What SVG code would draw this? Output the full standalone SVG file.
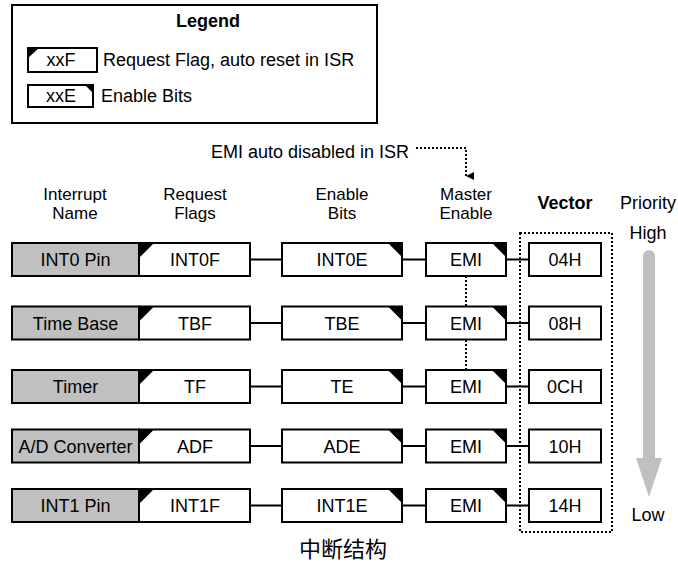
<svg xmlns="http://www.w3.org/2000/svg" width="678" height="571" viewBox="0 0 678 571">
<style>
text{font-family:"Liberation Sans",Arial,sans-serif;font-size:18px;fill:#000;text-anchor:middle}
.b{font-weight:bold}
.l{text-anchor:start}
.h{font-size:17px}
.box{fill:#fff;stroke:#000;stroke-width:2}
.name{fill:#c0c0c0;stroke:#000;stroke-width:2}
.tri{fill:#000}
.con{stroke:#000;stroke-width:2;fill:none}
.dot{stroke:#000;stroke-width:2;fill:none;stroke-dasharray:2 2}
</style>
<defs>
<marker id="ah" viewBox="0 0 8 8" refX="4" refY="8" markerWidth="8" markerHeight="8" markerUnits="userSpaceOnUse" orient="auto-start-reverse">
<path d="M0,0 L8,0 L4,8 Z" fill="#000"/>
</marker>
</defs>
<g id="legend">
<rect x="12" y="5" width="365" height="118" fill="#fff" stroke="#000" stroke-width="2"/>
<text x="208" y="27" class="b">Legend</text>
<rect class="box" x="28" y="48" width="69" height="24"/>
<path class="tri" d="M28,48 L39,48 L28,58 Z"/>
<text x="61" y="66">xxF</text>
<text x="103" y="66" class="l">Request Flag, auto reset in ISR</text>
<rect class="box" x="28" y="85" width="65" height="22"/>
<path class="tri" d="M85,85 L93,85 L93,93 Z"/>
<text x="61" y="102">xxE</text>
<text x="101" y="102" class="l">Enable Bits</text>
</g>
<g id="headers">
<text class="h" x="75" y="200">Interrupt</text><text class="h" x="75" y="219">Name</text>
<text class="h" x="195" y="200">Request</text><text class="h" x="195" y="219">Flags</text>
<text class="h" x="342" y="200">Enable</text><text class="h" x="342" y="219">Bits</text>
<text class="h" x="466" y="200">Master</text><text class="h" x="466" y="219">Enable</text>
<text x="565" y="209" class="b">Vector</text>
<text x="648" y="209">Priority</text>
<text x="648" y="239">High</text>
<text x="648" y="521">Low</text>
<text x="310" y="158">EMI auto disabled in ISR</text>
</g>
<g id="connectors">
<path class="dot" d="M416,148 H466 V176" marker-end="url(#ah)"/>
<path class="dot" d="M466,276 V370"/>
<path class="con" d="M250,259.5 H282 M402,259.5 H426 M506,259.5 H529"/>
<path class="con" d="M250,323 H282 M402,323 H426 M506,323 H529"/>
<path class="con" d="M250,386.5 H282 M402,386.5 H426 M506,386.5 H529"/>
<path class="con" d="M250,446 H282 M402,446 H426 M506,446 H529"/>
<path class="con" d="M250,505.5 H282 M402,505.5 H426 M506,505.5 H529"/>
<rect class="dot" x="520" y="233" width="92" height="299"/>
</g>
<g id="priority">
<path d="M643,256 A6,6 0 0 1 655,256 V458 H662 L649,497 L636,458 H643 Z" fill="#c0c0c0"/>
</g>
<g id="row1">
<rect class="name" x="12" y="243" width="127" height="33"/><text x="75.5" y="266">INT0 Pin</text>
<rect class="box" x="139" y="243" width="111" height="33"/><path class="tri" d="M139,243 L154,243 L139,258 Z"/><text x="195" y="266">INT0F</text>
<rect class="box" x="282" y="243" width="120" height="33"/><path class="tri" d="M388,243 L402,243 L402,257 Z"/><text x="342" y="266">INT0E</text>
<rect class="box" x="426" y="243" width="80" height="33"/><path class="tri" d="M492,243 L506,243 L506,257 Z"/><text x="466" y="266">EMI</text>
<rect class="box" x="529" y="243" width="72" height="33"/><text x="565" y="266">04H</text>
</g>
<g id="row2">
<rect class="name" x="12" y="306.5" width="127" height="33"/><text x="75.5" y="329.5">Time Base</text>
<rect class="box" x="139" y="306.5" width="111" height="33"/><path class="tri" d="M139,306.5 L154,306.5 L139,321.5 Z"/><text x="195" y="329.5">TBF</text>
<rect class="box" x="282" y="306.5" width="120" height="33"/><path class="tri" d="M388,306.5 L402,306.5 L402,320.5 Z"/><text x="342" y="329.5">TBE</text>
<rect class="box" x="426" y="306.5" width="80" height="33"/><path class="tri" d="M492,306.5 L506,306.5 L506,320.5 Z"/><text x="466" y="329.5">EMI</text>
<rect class="box" x="529" y="306.5" width="72" height="33"/><text x="565" y="329.5">08H</text>
</g>
<g id="row3">
<rect class="name" x="12" y="370" width="127" height="33"/><text x="75.5" y="393">Timer</text>
<rect class="box" x="139" y="370" width="111" height="33"/><path class="tri" d="M139,370 L154,370 L139,385 Z"/><text x="195" y="393">TF</text>
<rect class="box" x="282" y="370" width="120" height="33"/><path class="tri" d="M388,370 L402,370 L402,384 Z"/><text x="342" y="393">TE</text>
<rect class="box" x="426" y="370" width="80" height="33"/><path class="tri" d="M492,370 L506,370 L506,384 Z"/><text x="466" y="393">EMI</text>
<rect class="box" x="529" y="370" width="72" height="33"/><text x="565" y="393">0CH</text>
</g>
<g id="row4">
<rect class="name" x="12" y="429.5" width="127" height="33"/><text x="75.5" y="452.5">A/D Converter</text>
<rect class="box" x="139" y="429.5" width="111" height="33"/><path class="tri" d="M139,429.5 L154,429.5 L139,444.5 Z"/><text x="195" y="452.5">ADF</text>
<rect class="box" x="282" y="429.5" width="120" height="33"/><path class="tri" d="M388,429.5 L402,429.5 L402,443.5 Z"/><text x="342" y="452.5">ADE</text>
<rect class="box" x="426" y="429.5" width="80" height="33"/><path class="tri" d="M492,429.5 L506,429.5 L506,443.5 Z"/><text x="466" y="452.5">EMI</text>
<rect class="box" x="529" y="429.5" width="72" height="33"/><text x="565" y="452.5">10H</text>
</g>
<g id="row5">
<rect class="name" x="12" y="489" width="127" height="33"/><text x="75.5" y="512">INT1 Pin</text>
<rect class="box" x="139" y="489" width="111" height="33"/><path class="tri" d="M139,489 L154,489 L139,504 Z"/><text x="195" y="512">INT1F</text>
<rect class="box" x="282" y="489" width="120" height="33"/><path class="tri" d="M388,489 L402,489 L402,503 Z"/><text x="342" y="512">INT1E</text>
<rect class="box" x="426" y="489" width="80" height="33"/><path class="tri" d="M492,489 L506,489 L506,503 Z"/><text x="466" y="512">EMI</text>
<rect class="box" x="529" y="489" width="72" height="33"/><text x="565" y="512">14H</text>
</g>
<text x="343" y="557" style="font-family:'Noto Sans CJK SC','Liberation Sans',sans-serif;font-size:22px">中断结构</text>
</svg>
